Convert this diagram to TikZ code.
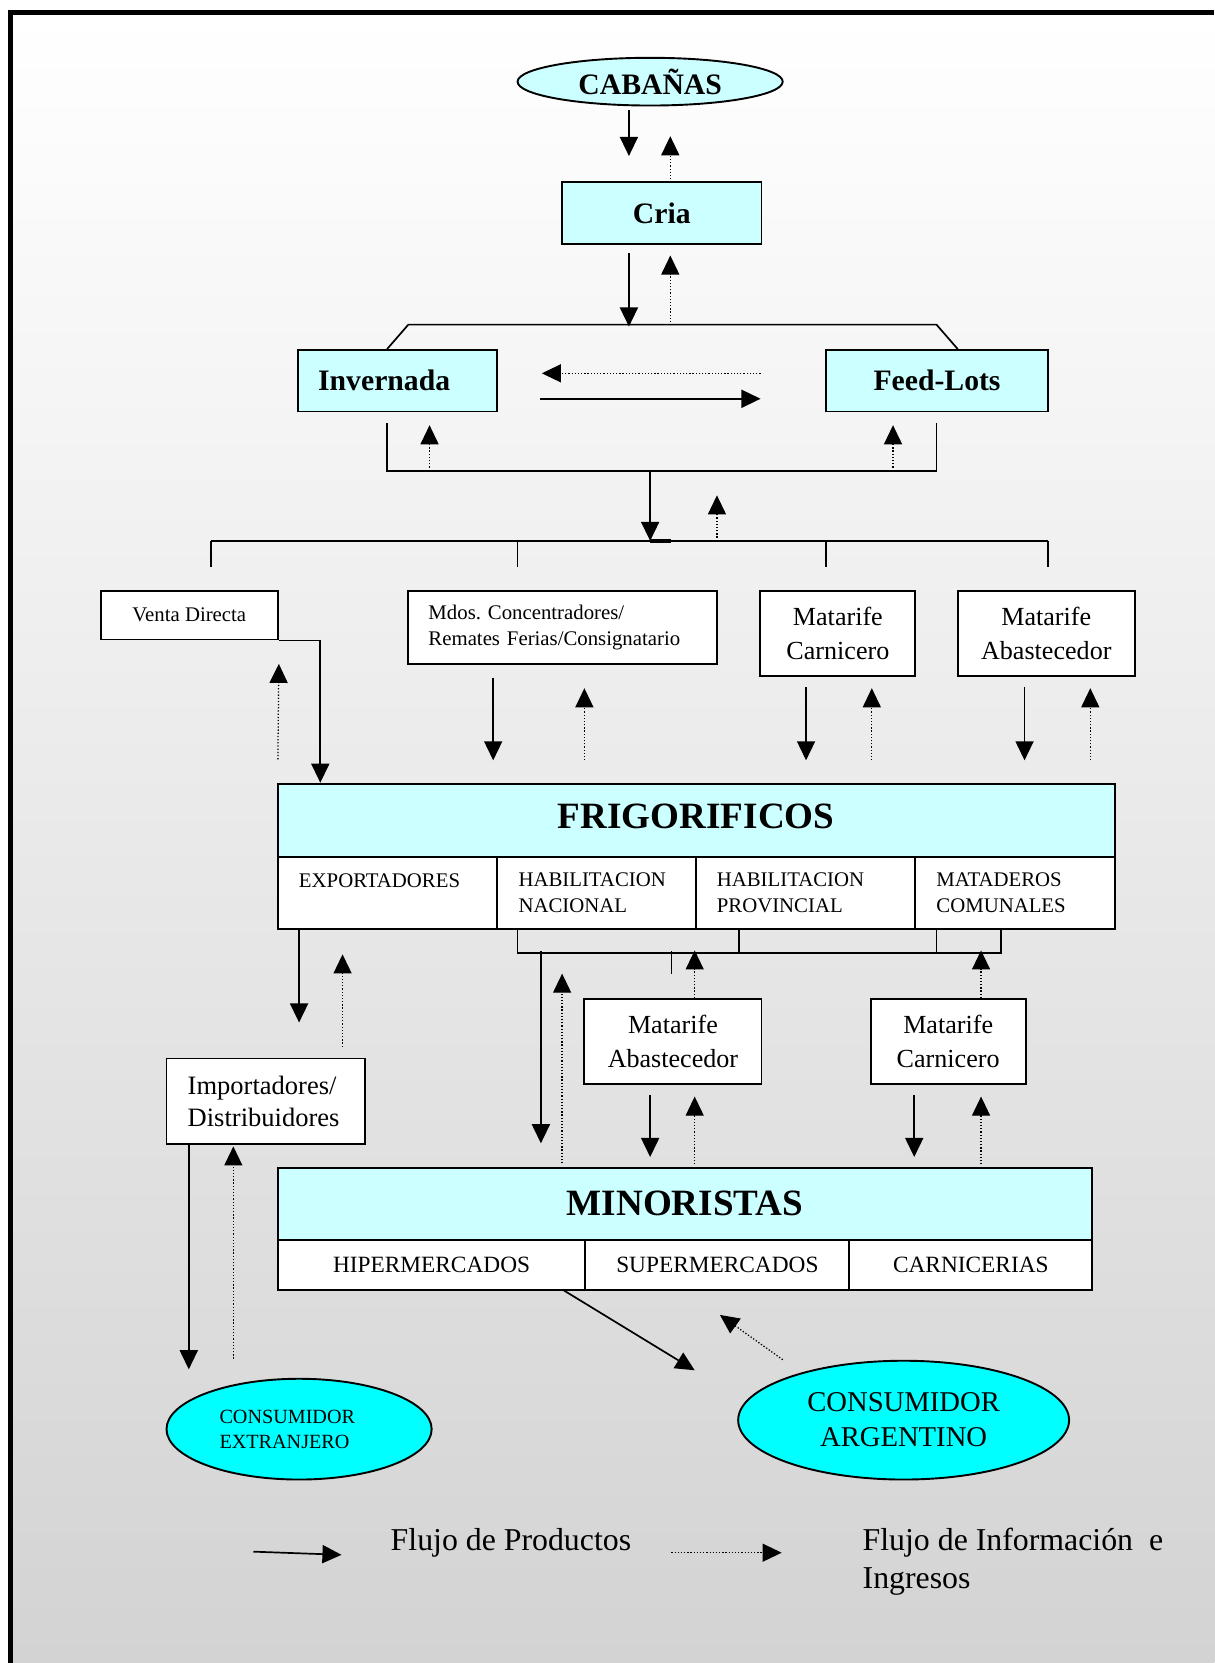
\documentclass[tikz,border=0pt]{standalone}
\usepackage{fontspec}
\setmainfont{Liberation Serif}
\usepackage{tikz}
\usetikzlibrary{arrows.meta, shapes.geometric, calc}
\frenchspacing
\definecolor{boxcyan}{HTML}{CCFFFF}
\definecolor{consumercyan}{HTML}{00FFFF}
\definecolor{bggray}{HTML}{D3D3D3}
\tikzset{
    blk/.style={draw=black, line width=0.9pt, fill=white, inner sep=0pt, align=center},
    cyanblk/.style={blk, fill=boxcyan, font=\fontsize{14}{16}\selectfont\bfseries},
    titleblk/.style={blk, fill=boxcyan, anchor=north west, font=\fontsize{17.5}{20}\selectfont\bfseries},
    smallblk/.style={blk, font=\fontsize{9.8}{12}\selectfont},
    cellblk/.style={smallblk, anchor=north west, minimum height=34pt, align=left},
    shopblk/.style={blk, anchor=north west, minimum height=23.5pt, font=\fontsize{11}{13}\selectfont},
    mtblk/.style={blk, font=\fontsize{12.3}{16}\selectfont},
    oval/.style={ellipse, draw=black, line width=0.9pt, fill=consumercyan, inner sep=0pt, align=center},
    legtxt/.style={anchor=west, inner sep=0pt, align=left, font=\fontsize{15}{17.5}\selectfont},
    prod/.style={-{Triangle[length=9pt,width=8.5pt]}, line width=0.8pt},
    info/.style={-{Triangle[length=9pt,width=8.5pt]}, line width=0.6pt, dash pattern=on 0.6pt off 0.9pt},
    lnk/.style={line width=0.8pt}
}
\begin{document}
\begin{tikzpicture}[x=0.5pt, y=-0.5pt]
    \useasboundingbox (0,0) rectangle (1145,1568);
    \shade[top color=white, bottom color=bggray] (10,12) rectangle (1145,1568);
    \draw[line width=2.4pt] (10,1568) -- (10,11.8) -- (1145,11.8);

    \node[cyanblk, ellipse, minimum width=125pt, minimum height=22.5pt] (cab) at (613,77) {CABAÑAS};
    \node[cyanblk, minimum width=94pt, minimum height=29pt] (cria) at (624,201) {Cria};
    \node[cyanblk, minimum width=94pt, minimum height=29pt, text width=75pt, align=left] (inv) at (375,359) {Invernada};
    \node[cyanblk, minimum width=104.5pt, minimum height=29pt] (feed) at (883.5,359) {Feed-Lots};

    \node[smallblk, minimum width=83.5pt, minimum height=23pt] (vd) at (178.5,580) {Venta Directa};
    \node[smallblk, minimum width=145.5pt, minimum height=34.5pt, text width=126.5pt, align=left] (mdos) at (530.5,591.5) {Mdos. Concentradores/\\Remates Ferias/Consignatario};
    \node[mtblk, minimum width=73pt, minimum height=40pt] (mc1) at (790,597) {Matarife\\Carnicero};
    \node[mtblk, minimum width=83.5pt, minimum height=40pt] (ma1) at (986.5,597) {Matarife\\Abastecedor};

    \node[titleblk, minimum width=394.5pt, minimum height=34.5pt, text depth=4pt] (frig) at (261,738) {FRIGORIFICOS};
    \node[cellblk, minimum width=103.5pt, text width=83.5pt] (exp) at (261,807) {EXPORTADORES\\~};
    \node[cellblk, minimum width=93.5pt, text width=73.5pt] (hn) at (468,807) {HABILITACION\\NACIONAL};
    \node[cellblk, minimum width=103.5pt, text width=83.5pt] (hp) at (655,807) {HABILITACION\\PROVINCIAL};
    \node[cellblk, minimum width=94pt, text width=74pt] (mat) at (862,807) {MATADEROS\\COMUNALES};

    \node[mtblk, minimum width=83.5pt, minimum height=40pt] (ma2) at (634.5,982) {Matarife\\Abastecedor};
    \node[mtblk, minimum width=73pt, minimum height=40pt] (mc2) at (894,982) {Matarife\\Carnicero};
    \node[blk, font=\fontsize{12.5}{15}\selectfont, minimum width=93.5pt, minimum height=40.5pt, text width=73.5pt, align=left] (imp) at (250.5,1038.5) {Importadores/\\Distribuidores};

    \node[titleblk, minimum width=384pt, minimum height=34pt] (min) at (261,1100) {MINORISTAS};
    \node[shopblk, minimum width=145pt] (hip) at (261,1168) {HIPERMERCADOS};
    \node[shopblk, minimum width=124.5pt] (sup) at (551,1168) {SUPERMERCADOS};
    \node[shopblk, minimum width=114.5pt] (car) at (800,1168) {CARNICERIAS};

    \node[oval, font=\fontsize{9.5}{12}\selectfont, minimum width=125pt, minimum height=47.5pt, text width=75pt, align=left] (cext) at (282,1347.5) {CONSUMIDOR\\EXTRANJERO};
    \node[oval, font=\fontsize{13.5}{16.5}\selectfont, minimum width=156pt, minimum height=56pt] (carg) at (852,1339) {CONSUMIDOR\\ARGENTINO};

    \node[legtxt] (legprod) at (368,1455) {Flujo de Productos};
    \node[legtxt] (leginfo) at (813,1472.5) {Flujo de Información\ \ e\\Ingresos};

    \draw[prod] ($(cab.south)+(-20,3.5)$) -- ($(cria.north)+(-31,-24)$);
    \draw[info] ($(cria.north)+(8,-2)$) -- ($(cab.south)+(19,28)$);
    \draw[prod] ($(cria.south)+(-31,8)$) -- ($(cria.south)+(-31,77)$);
    \draw[info] ($(cria.south)+(8,76)$) -- ($(cria.south)+(8,10)$);
    \draw[lnk] ($(inv.north)+(-10,0)$) -- ++(20,-23) -- ($(feed.north)+(-0.5,-23)$) -- ++(20,23);
    \draw[info] ($(feed.west)+(-61,-7)$) -- ($(inv.east)+(41,-7)$);
    \draw[prod] ($(inv.east)+(39,17)$) -- ($(feed.west)+(-61,17)$);

    \coordinate (hub1) at (613,443);
    \coordinate (hub2) at (613,510);
    \draw[lnk] ($(inv.south)+(-10,10)$) |- ($(feed.south)+(-0.5,55)$) -- ++(0,-45);
    \draw[info] ($(inv.south)+(30,55)$) -- ($(inv.south)+(30,12)$);
    \draw[info] ($(feed.south)+(-41.5,55)$) -- ($(feed.south)+(-41.5,12)$);
    \draw[prod] (hub1) -- (hub2);
    \draw[info] ($(hub2)+(63,0)$) -- ($(hub2)+(63,-43)$);
    \draw[lnk] ($(hub2)+(-414,0)$) -- ($(hub2)+(375,0)$);
    \foreach \dx in {-414,-125,166,375}
        \draw[lnk] ($(hub2)+(\dx,0)$) -- ++(0,25);
    \draw[line width=2pt] (hub2) -- ++(20,0);

    \draw[prod] (vd.south east) -| ($(frig.north west)+(41,0)$);
    \draw[info] ($(frig.north west)+(1,-22)$) -- ($(vd.south east)+(0,22)$);
    \draw[prod] ($(mdos.south)+(-65.5,12)$) -- ($(mdos.south)+(-65.5,90)$);
    \draw[info] ($(mdos.south)+(20.5,90)$) -- ($(mdos.south)+(20.5,22)$);
    \draw[prod] ($(mc1.south)+(-30,10)$) -- ($(mc1.south)+(-30,79)$);
    \draw[info] ($(mc1.south)+(32,79)$) -- ($(mc1.south)+(32,11)$);
    \draw[prod] ($(ma1.south)+(-20.5,10)$) -- ($(ma1.south)+(-20.5,79)$);
    \draw[info] ($(ma1.south)+(41.5,79)$) -- ($(ma1.south)+(41.5,11)$);

    \draw[prod] ($(exp.south west)+(21,0)$) -- ($(imp.north)+(31.5,-33)$);
    \draw[info] ($(imp.north)+(72.5,-10)$) -- ($(exp.south west)+(62,23)$);
    \draw[prod] ($(imp.south)+(-72.5,0)$) -- ($(cext.north)+(-104,-8)$);
    \draw[info] ($(cext.north)+(-62,-18)$) -- ($(imp.south)+(-30.5,1)$);

    \coordinate (hub3) at (510,897);
    \draw[lnk] ($(hn.south west)+(20,0)$) |- ($(mat.south west)+(82,22)$) -- ++(0,-22);
    \draw[lnk] ($(hp.south west)+(42,0)$) -- ++(0,22);
    \draw[lnk] ($(mat.south west)+(21,0)$) -- ++(0,22);
    \draw[lnk] ($(hub3)+(123,0)$) -- ++(0,21);
    \draw[prod] (hub3) -- ($(min.north west)+(249,-22)$);
    \draw[info] ($(min.north west)+(269,-3)$) -- ($(hub3)+(20,21)$);
    \draw[info] ($(ma2.north)+(20.5,0)$) -- ($(ma2.north)+(20.5,-45)$);
    \draw[info] ($(mc2.north)+(31,0)$) -- ($(mc2.north)+(31,-45)$);
    \draw[prod] ($(ma2.south)+(-21.5,10)$) -- ($(ma2.south)+(-21.5,68)$);
    \draw[info] ($(ma2.south)+(20.5,75)$) -- ($(ma2.south)+(20.5,11)$);
    \draw[prod] ($(mc2.south)+(-32,10)$) -- ($(mc2.south)+(-32,68)$);
    \draw[info] ($(mc2.south)+(31,75)$) -- ($(mc2.south)+(31,11)$);

    \draw[prod] ($(hip.south east)+(-21,0)$) -- ($(carg.center)+(-197,-47)$);
    \draw[info] ($(carg.center)+(-114,-57)$) -- ($(hip.south east)+(126,23)$);

    \draw[prod] ($(legprod.west)+(-129,8)$) -- ($(legprod.west)+(-46,11)$);
    \draw[info] ($(leginfo.west)+(-180,-8.5)$) -- ($(leginfo.west)+(-76,-8.5)$);
\end{tikzpicture}
\end{document}
